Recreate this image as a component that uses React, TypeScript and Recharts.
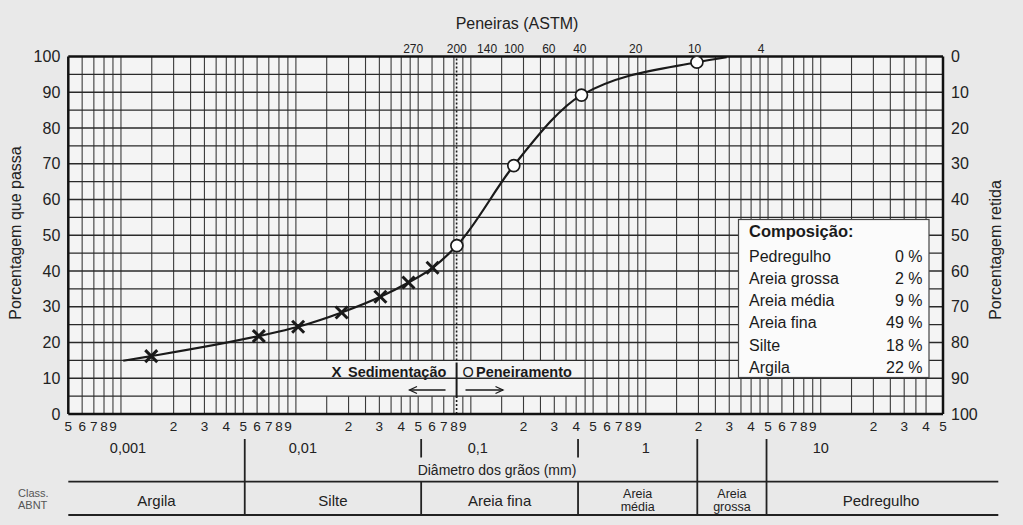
import React from 'react';
import { ComposedChart, Line, Scatter, XAxis, YAxis, ReferenceLine, CartesianGrid } from 'recharts';

const FONT = '"Liberation Sans", Arial, Helvetica, sans-serif';
const INK = '#1a1a1a';
const W = 1023;
const H = 525;

// ---- data ----
// Sedimentação (diâmetro em mm, % que passa)
const sedDiam = [0.00149, 0.00614, 0.0103, 0.01826, 0.0304, 0.044, 0.0604];
const sedPass = [16.2, 21.8, 24.4, 28.4, 32.8, 36.8, 40.9];
// Peneiramento
const penDiam = [0.0832, 0.176, 0.429, 1.96];
const penPass = [47.1, 69.5, 89.2, 98.4];
// ends of the fitted curve
const curveStartDiam = 0.00103;
const curveStartPass = 14.9;
const curveEndDiam = 2.9;
const curveEndPass = 99.8;

// Peneiras (ASTM) labels on top
const sieveLabels = ['270', '200', '140', '100', '60', '40', '20', '10', '4'];
const sieveDiam = [0.0468, 0.0831, 0.1238, 0.1764, 0.2793, 0.4198, 0.8757, 1.901, 4.563];
const sieve200Diam = 0.0829;

// x axis tick labels
const minorTicks = [
  0.0005, 0.0006, 0.0007, 0.0008, 0.0009,
  0.002, 0.003, 0.004, 0.005, 0.006, 0.007, 0.008, 0.009,
  0.02, 0.03, 0.04, 0.05, 0.06, 0.07, 0.08, 0.09,
  0.2, 0.3, 0.4, 0.5, 0.6, 0.7, 0.8, 0.9,
  2, 3, 4, 5, 6, 7, 8, 9,
  20, 30, 40, 50,
];
const decadeValues = [0.001, 0.01, 0.1, 1, 10];
const decadeLabels = ['0,001', '0,01', '0,1', '1', '10'];

// y ticks
const passTicks = [0, 10, 20, 30, 40, 50, 60, 70, 80, 90, 100];
const gridY = [5, 10, 15, 20, 25, 30, 35, 40, 45, 50, 55, 60, 65, 70, 75, 80, 85, 90, 95];

// grid multipliers per decade
const gridDecades = [0.0001, 0.001, 0.01, 0.1, 1, 10];
const gridMult = [1, 1.5, 2, 2.5, 3, 3.5, 4, 4.5, 5, 6, 7, 8, 9];

// Class. ABNT
const classNames = ['Argila', 'Silte', 'Areia fina', 'Areia\nmédia', 'Areia\ngrossa', 'Pedregulho'];
const classBounds = [0.0005, 0.0051, 0.052, 0.41, 1.97, 4.9, 100];
const classSepGap = [false, true, true, false, false];

// Composição
const compNames = ['Pedregulho', 'Areia grossa', 'Areia média', 'Areia fina', 'Silte', 'Argila'];
const compValues = [0, 2, 9, 49, 18, 22];

// ---- derived ----
const sedData = sedDiam.map((d, i) => ({ d, p: sedPass[i] }));
const penData = penDiam.map((d, i) => ({ d, p: penPass[i] }));
const curveData = [
  { d: curveStartDiam, p: curveStartPass },
  ...sedData,
  ...penData,
  { d: curveEndDiam, p: curveEndPass },
];

const gridX: number[] = [];
gridDecades.forEach((dec) =>
  gridMult.forEach((m) => {
    const v = dec * m;
    if (v > 0.000501 && v < 49.9 && !(dec === 10 && m === 4.5)) gridX.push(v);
  })
);
const legendGapLo = 0.0149;
const legendGapHi = 0.41;

const classSeps = classBounds.slice(1, classBounds.length - 1);
const classMids = classNames.map((_, i) => Math.sqrt(classBounds[i] * classBounds[i + 1]));
const bottomTicks = [...minorTicks, ...decadeValues, ...classSeps, ...classMids];

const DOMAIN: [number, number] = [0.0005, 50];

const leadDigit = (v: number) => {
  const e = Math.floor(Math.log10(v) + 1e-9);
  return String(Math.round(v / Math.pow(10, e)));
};

const XMark = (props: any) => {
  const { cx, cy } = props;
  const s = 6;
  return (
    <g>
      <line x1={cx - s} y1={cy - s} x2={cx + s} y2={cy + s} stroke={INK} strokeWidth={3} />
      <line x1={cx - s} y1={cy + s} x2={cx + s} y2={cy - s} stroke={INK} strokeWidth={3} />
    </g>
  );
};

const OMark = (props: any) => {
  const { cx, cy } = props;
  return <circle cx={cx} cy={cy} r={6} fill="#fff" stroke={INK} strokeWidth={1.7} />;
};

const BottomTick = (props: any) => {
  const { x, payload } = props;
  const v = payload.value;
  if (minorTicks.indexOf(v) >= 0) {
    return (
      <text x={x} y={430.5} textAnchor="middle" fontSize={13.5} fill="#222" fontFamily={FONT}>
        {leadDigit(v)}
      </text>
    );
  }
  const di = decadeValues.indexOf(v);
  if (di >= 0) {
    const dx = v < 1 ? 7 : 0;
    return (
      <text x={x + dx} y={452.5} textAnchor="middle" fontSize={14.5} fill="#222" fontFamily={FONT}>
        {decadeLabels[di]}
      </text>
    );
  }
  const si = classSeps.indexOf(v);
  if (si >= 0) {
    if (classSepGap[si]) {
      return (
        <g>
          <line x1={x} x2={x} y1={439} y2={457.5} stroke="#222" strokeWidth={1.8} />
          <line x1={x} x2={x} y1={481.7} y2={515} stroke="#222" strokeWidth={1.8} />
        </g>
      );
    }
    return <line x1={x} x2={x} y1={439} y2={515} stroke="#222" strokeWidth={1.8} />;
  }
  const ci = classMids.indexOf(v);
  if (ci < 0) return <g />;
  const parts = classNames[ci].split('\n');
  if (parts.length === 1) {
    return (
      <text x={x} y={506} textAnchor="middle" fontSize={15} fill="#222" fontFamily={FONT}>
        {parts[0]}
      </text>
    );
  }
  return (
    <text textAnchor="middle" fontSize={12.5} fill="#222" fontFamily={FONT}>
      <tspan x={x} y={498.3}>{parts[0]}</tspan>
      <tspan x={x} y={511}>{parts[1]}</tspan>
    </text>
  );
};

const axisLineStyle = { stroke: '#111', strokeWidth: 2.5 };
const gridStroke = '#3a3a3a';

export default function App() {
  const vLines: React.ReactNode[] = [];
  gridX.forEach((v, i) => {
    if (v > legendGapLo && v <= legendGapHi) {
      vLines.push(
        <ReferenceLine key={`va${i}`} xAxisId="m" yAxisId="l" segment={[{ x: v, y: 0 }, { x: v, y: 5 }]} stroke={gridStroke} strokeWidth={1.1} />
      );
      vLines.push(
        <ReferenceLine key={`vb${i}`} xAxisId="m" yAxisId="l" segment={[{ x: v, y: 15 }, { x: v, y: 100 }]} stroke={gridStroke} strokeWidth={1.1} />
      );
    } else {
      vLines.push(<ReferenceLine key={`v${i}`} xAxisId="m" yAxisId="l" x={v} stroke={gridStroke} strokeWidth={1.1} />);
    }
  });

  return (
    <div style={{ position: 'absolute', left: 0, top: 0, width: W, height: H, background: '#e9e9e9', fontFamily: FONT }}>
      <ComposedChart
        width={W}
        height={H}
        margin={{ top: 36.5, right: 30, bottom: 25, left: 28.3 }}
        style={{ position: 'absolute', left: 0, top: 0 }}
      >
        <CartesianGrid xAxisId="m" yAxisId="l" horizontal={false} vertical={false} fill="#f4f4f4" />
        <XAxis
          xAxisId="m"
          dataKey="d"
          type="number"
          scale="log"
          domain={DOMAIN}
          allowDataOverflow
          ticks={bottomTicks}
          interval={0}
          tickLine={false}
          height={86}
          axisLine={axisLineStyle}
          tick={BottomTick}
        />
        <XAxis
          xAxisId="t"
          dataKey="d"
          orientation="top"
          type="number"
          scale="log"
          domain={DOMAIN}
          allowDataOverflow
          ticks={sieveDiam}
          interval={0}
          tickFormatter={(v: number) => sieveLabels[sieveDiam.indexOf(v)]}
          tickLine={false}
          tickSize={2}
          tickMargin={2}
          height={20}
          axisLine={axisLineStyle}
          tick={{ fontSize: 12, fill: '#222', fontFamily: FONT }}
        />
        <YAxis
          yAxisId="l"
          dataKey="p"
          type="number"
          domain={[0, 100]}
          allowDataOverflow
          ticks={passTicks}
          interval={0}
          tickLine={false}
          width={40}
          axisLine={axisLineStyle}
          tick={{ fontSize: 16, fill: '#222', fontFamily: FONT }}
        />
        <YAxis
          yAxisId="r"
          dataKey="p"
          orientation="right"
          type="number"
          domain={[0, 100]}
          reversed
          allowDataOverflow
          ticks={passTicks}
          interval={0}
          tickLine={false}
          width={50}
          axisLine={axisLineStyle}
          tick={{ fontSize: 16, fill: '#222', fontFamily: FONT }}
        />

        {vLines}
        {gridY.map((v) => (
          <ReferenceLine key={`h${v}`} xAxisId="m" yAxisId="l" y={v} stroke="#2a2a2a" strokeWidth={1.3} />
        ))}
        <ReferenceLine xAxisId="m" yAxisId="l" segment={[{ x: sieve200Diam, y: 0 }, { x: sieve200Diam, y: 5 }]} stroke={INK} strokeWidth={1.6} strokeDasharray="2 2" />
        <ReferenceLine xAxisId="m" yAxisId="l" segment={[{ x: sieve200Diam, y: 15 }, { x: sieve200Diam, y: 100 }]} stroke={INK} strokeWidth={1.6} strokeDasharray="2 2" />
        <ReferenceLine xAxisId="m" yAxisId="l" segment={[{ x: sieve200Diam, y: 4.6 }, { x: sieve200Diam, y: 14.4 }]} stroke={INK} strokeWidth={2} />

        <Line
          xAxisId="m"
          yAxisId="l"
          data={curveData}
          dataKey="p"
          type="monotone"
          stroke={INK}
          strokeWidth={2.2}
          dot={false}
          activeDot={false}
          isAnimationActive={false}
        />
        {/* invisible copy so the top (sieve) axis and the right axis have data of their own */}
        <Line
          xAxisId="t"
          yAxisId="r"
          data={curveData}
          dataKey="p"
          stroke="none"
          strokeOpacity={0}
          dot={false}
          activeDot={false}
          legendType="none"
          isAnimationActive={false}
        />
        <Scatter xAxisId="m" yAxisId="l" data={sedData} dataKey="p" shape={XMark} isAnimationActive={false} />
        <Scatter xAxisId="m" yAxisId="l" data={penData} dataKey="p" shape={OMark} isAnimationActive={false} />
      </ComposedChart>

      <svg
        width={W}
        height={H}
        style={{ position: 'absolute', left: 0, top: 0, pointerEvents: 'none' }}
        fontFamily={FONT}
      >
        <text x={517} y={29} textAnchor="middle" fontSize={16} fill="#222">Peneiras (ASTM)</text>
        <text transform="translate(21,233) rotate(-90)" textAnchor="middle" fontSize={16} fill="#222">
          Porcentagem que passa
        </text>
        <text transform="translate(1001,250) rotate(-90)" textAnchor="middle" fontSize={16} fill="#222">
          Porcentagem retida
        </text>

        {/* legend */}
        <text x={331.5} y={377.3} fontSize={15} fontWeight="bold" fill={INK}>X</text>
        <text x={348} y={377.3} fontSize={14.5} fontWeight="bold" fill={INK}>Sedimentação</text>
        <text x={462.5} y={377.3} fontSize={14.5} fill={INK}>O</text>
        <text x={476} y={377.3} fontSize={14.5} fontWeight="bold" fill={INK}>Peneiramento</text>
        <g stroke={INK} strokeWidth={1.3} fill="none">
          <line x1={445.5} y1={390} x2={409.5} y2={390} />
          <polyline points="417,386.5 409.5,390 417,393.5" />
          <line x1={465.5} y1={390} x2={503} y2={390} />
          <polyline points="495.5,386.5 503,390 495.5,393.5" />
        </g>

        {/* composição */}
        <rect x={738.5} y={219.5} width={190.5} height={158} fill="#fbfbfb" stroke="#444" strokeWidth={1.2} />
        <text x={749} y={236.5} fontSize={16.5} fontWeight="bold" fill={INK}>Composição:</text>
        {compNames.map((n, i) => (
          <g key={n}>
            <text x={749} y={261.7 + i * 22.2} fontSize={16} fill={INK}>{n}</text>
            <text x={922.5} y={261.7 + i * 22.2} fontSize={16} fill={INK} textAnchor="end">{`${compValues[i]} %`}</text>
          </g>
        ))}

        {/* class table */}
        <text x={497} y={474.5} textAnchor="middle" fontSize={14} fill="#222">Diâmetro dos grãos (mm)</text>
        <line x1={68.3} x2={998.3} y1={481.7} y2={481.7} stroke="#222" strokeWidth={1.8} />
        <line x1={68.3} x2={998.3} y1={515} y2={515} stroke="#222" strokeWidth={1.8} />
        <text x={18} y={497} fontSize={11} fill="#555">Class.</text>
        <text x={18} y={508.5} fontSize={11} fill="#555">ABNT</text>
      </svg>
    </div>
  );
}
